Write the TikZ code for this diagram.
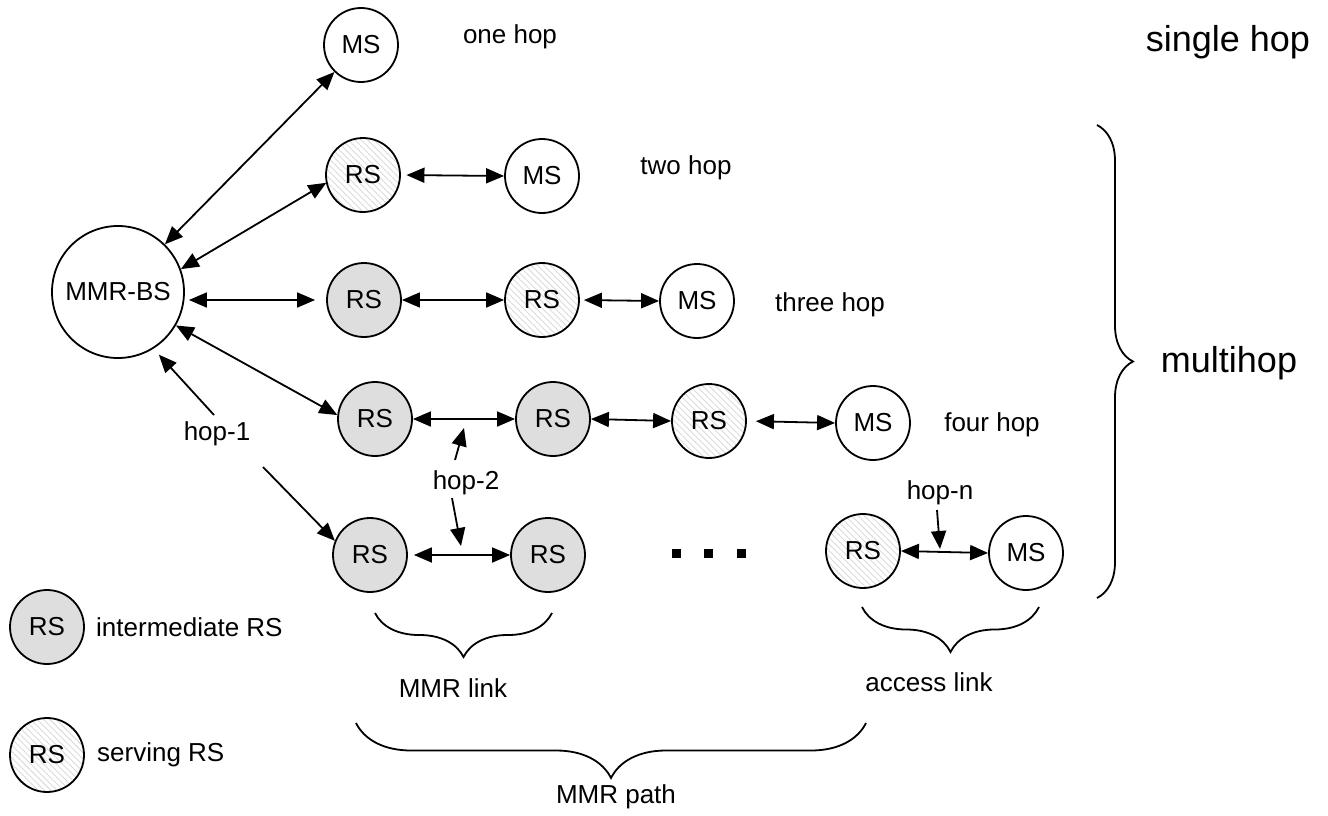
\documentclass[tikz,border=0pt]{standalone}
\usepackage{fontspec}
\setmainfont{Liberation Sans}
\usetikzlibrary{arrows.meta,patterns.meta,decorations.pathreplacing}
\begin{document}
\begin{tikzpicture}[x=1pt,y=-1pt,
  every node/.style={font=\fontsize{26}{30}\selectfont},
  stn/.style={circle,draw,line width=1.8pt,minimum size=74pt,inner sep=0pt},
  msn/.style={stn,fill=white},
  irs/.style={stn,fill=black!13},
  srs/.style={stn,pattern={Lines[angle=-45,distance=4.5pt,line width=0.9pt]},pattern color=black!14},
  bsn/.style={circle,draw,line width=1.8pt,minimum size=132pt,inner sep=0pt},
  link/.style={line width=1.8pt,{Triangle[length=18pt,width=15pt]}-{Triangle[length=18pt,width=15pt]}},
  arr/.style={line width=1.8pt,-{Triangle[length=18pt,width=15pt]}},
  brc/.style={decorate,decoration={brace,amplitude=#1},line width=1.8pt},
  lbl/.style={inner sep=0pt},
  big/.style={inner sep=0pt,font=\fontsize{36}{42}\selectfont},
  dotn/.style={fill,minimum size=9pt,inner sep=0pt},
]
\useasboundingbox (0,0) rectangle (1328,816);

% nodes
\node[msn] (ms1) at (361,45) {MS};
\node[lbl] (t1) at (510,37) {one hop};
\node[big] (t0) at (1228,42) {single hop};
\node[srs] (rs2) at (363,175) {RS};
\node[msn] (ms2) at (542,176) {MS};
\node[lbl] (t2) at (686,168) {two hop};
\node[bsn] (bs) at (118,292) {MMR-BS};
\node[irs] (rs3a) at (364,300) {RS};
\node[srs] (rs3b) at (542,300) {RS};
\node[msn] (ms3) at (697,301) {MS};
\node[lbl] (t3) at (830,305) {three hop};
\node[irs] (rs4a) at (375,419) {RS};
\node[irs] (rs4b) at (553,419) {RS};
\node[srs] (rs4c) at (709,421) {RS};
\node[msn] (ms4) at (873,423) {MS};
\node[lbl] (t4) at (992,425) {four hop};
\node[irs] (rs5a) at (370,555) {RS};
\node[irs] (rs5b) at (548,555) {RS};
\node[dotn] (d1) at (676,553) {};
\node[dotn] (d2) at (708,553) {};
\node[dotn] (d3) at (741,553) {};
\node[srs] (rs5c) at (863,551) {RS};
\node[msn] (ms5) at (1026,553) {MS};

\node[lbl] (h1) at (217,434) {hop-1};
\node[lbl] (h2) at (466,483) {hop-2};
\node[lbl] (hn) at (940,493) {hop-n};

\node[big] (mh) at (1229,363) {multihop};
\node[lbl] (ml) at (453,688) {MMR link};
\node[lbl] (al) at (929,682) {access link};
\node[lbl] (mp) at (616,797) {MMR path};

\node[irs] (lg1) at (47,627) {RS};
\node[lbl,anchor=west] (lg1t) at (96,627) {intermediate RS};
\node[srs] (lg2) at (47,755) {RS};
\node[lbl,anchor=west] (lg2t) at (97,755) {serving RS};

% connectors from MMR-BS
\draw[link] (bs) -- (ms1);
\draw[link] (bs.20) -- (rs2.192);
\draw[link,shorten <=4pt,shorten >=11pt] (bs.east |- rs3a) -- (rs3a.west);
\draw[link] (bs.-30) -- (rs4a.174);

% row links
\draw[link,shorten <=6pt] (rs2.east) -- (ms2.west);
\draw[link] (rs3a.east) -- (rs3b.west);
\draw[link,shorten <=4pt] (rs3b.east) -- (ms3.west);
\draw[link] (rs4a.east) -- (rs4b.west);
\draw[link] (rs4b.east) -- (rs4c.west);
\draw[link,shorten <=9pt] (rs4c.east) -- (ms4.west);
\draw[link,shorten <=6pt] (rs5a.east) -- (rs5b.west);
\draw[link] (rs5c.east) -- (ms5.west);

% hop labels
\coordinate (h1u) at (214,415);
\coordinate (h1d) at (263,467);
\draw[arr,shorten >=8pt] (h1u) -- (bs.-58);
\draw[arr] (h1d) -- (rs5a.158);
\coordinate (h2u) at (455,460);
\coordinate (h2ut) at (464,428);
\coordinate (h2d) at (452,498);
\coordinate (h2dt) at (461,546);
\draw[arr] (h2u) -- (h2ut);
\draw[arr] (h2d) -- (h2dt);
\coordinate (hnd) at (937,510);
\coordinate (hndt) at (940,549);
\draw[arr] (hnd) -- (hndt);

% braces
\draw[brc=36] (1097,125) -- (1097,598);
\draw[brc=44] (552,613) -- (375,613);
\draw[brc=45] (1039,607) -- (862,607);
\draw[brc=55] (866,723) -- (356,723);
\end{tikzpicture}
\end{document}
